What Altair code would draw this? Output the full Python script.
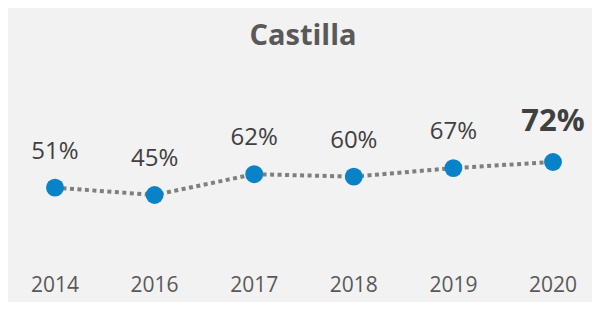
import altair as alt
import pandas as pd

years = ["2014", "2016", "2017", "2018", "2019", "2020"]
values = [51, 45, 62, 60, 67, 72]
title_text = "Castilla"

df = pd.DataFrame({"year": years, "value": values})
df["label"] = [f"{v}%" for v in values]
df["last"] = [i == len(years) - 1 for i in range(len(years))]

FONT = "Open Sans"

x = alt.X("year:O", sort=years, axis=None,
          scale=alt.Scale(type="point", padding=0, range=[47, 545]))
y = alt.Y("value:Q", axis=None, scale=alt.Scale(domain=[-42.6, 198], nice=False, zero=False))

base = alt.Chart(df).encode(x=x, y=y)

line = base.mark_line(color="#7f7f7f", strokeWidth=4, strokeDash=[4, 3.5])
points = base.mark_circle(size=320, color="#0a82c8", opacity=1)

labels = base.transform_filter("!datum.last").mark_text(
    font=FONT, fontSize=24, color="#404040", baseline="alphabetic", dy=-29
).encode(text="label:N")

last_label = base.transform_filter("datum.last").mark_text(
    font=FONT, fontSize=31, fontWeight="bold", color="#404040", baseline="alphabetic", dy=-31
).encode(text="label:N")

xlabels = alt.Chart(df).mark_text(
    font=FONT, fontSize=21, color="#595959", baseline="alphabetic"
).encode(x=x, y=alt.value(284), text="year:N")

title = alt.Chart(pd.DataFrame({"t": [title_text]})).mark_text(
    font=FONT, fontSize=29, fontWeight="bold", color="#595959", baseline="alphabetic"
).encode(x=alt.value(295), y=alt.value(37), text="t:N")

chart = alt.layer(line, points, labels, last_label, xlabels, title).properties(
    width=584, height=294,
    autosize=alt.AutoSizeParams(type="none"),
    padding={"left": 0, "right": 0, "top": 0, "bottom": 0},
    background="#f2f2f2",
).configure_view(stroke=None)

chart.save("out.html", embed_options={"renderer": "svg", "actions": False})
